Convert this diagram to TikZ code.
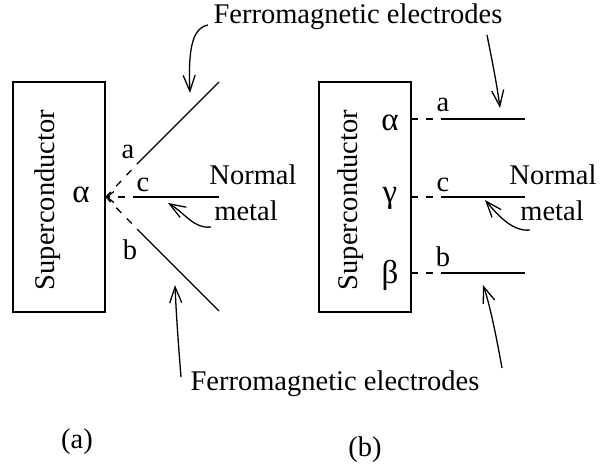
\documentclass[tikz,border=0pt]{standalone}
\usepackage{fontspec}
\setmainfont{Liberation Serif}
\usetikzlibrary{arrows.meta}
\begin{document}
\begin{tikzpicture}[x=1pt,y=-1pt,
  every node/.style={font=\fontsize{28.5}{34}\selectfont, inner sep=0pt},
  greek/.style={font=\fontsize{33}{38}\selectfont},
  wire/.style={line width=1.3pt},
  dashwire/.style={line width=1.3pt, dash pattern=on 7pt off 8pt},
  pointer/.style={line width=1.3pt, -{Straight Barb[length=16pt,width=12pt]}},
  sbox/.style={draw, line width=1.3pt, minimum width=92pt, minimum height=230pt}]
\useasboundingbox (0,0) rectangle (605,466);
% ---------- panel (a)
\node[sbox] (boxa) at (59,197) {};
\node[rotate=90] (sca) at (48,200) {Superconductor};
\node[greek] (alpa) at (81,195) {α};
\coordinate (oa) at (106,197);
\coordinate (a1) at (138,163);
\coordinate (a2) at (219,82);
\coordinate (c1) at (140,197);
\coordinate (c2) at (219,197);
\coordinate (b1) at (137,229);
\coordinate (b2) at (219,311);
\draw[dashwire] (oa) -- (a1);
\draw[wire] (a1) -- (a2);
\draw[dashwire, -{Straight Barb[length=7pt,width=11pt,line width=1.2pt]}] (c1) -- (oa);
\draw[wire] (c1) -- (c2);
\draw[dashwire] (oa) -- (b1);
\draw[wire] (b1) -- (b2);
\node (la) at (128,152) {a};
\node (lc) at (143,185) {c};
\node (lb) at (130,250) {b};
\node (nma) at (253,175) {Normal};
\node (mta) at (246,211) {metal};
\coordinate (pna) at (211,227);
\coordinate (tna) at (168,203);
\draw[pointer] (pna) .. controls (194,229) and (186,214) .. (tna);
% top text
\node (ftop) at (358,17) {Ferromagnetic electrodes};
\coordinate (pta) at (208,25);
\coordinate (tta) at (190,93);
\draw[pointer] (pta) .. controls (192,28) and (188,50) .. (tta);
\coordinate (pba) at (181,377);
\coordinate (tba) at (175,285);
\draw[pointer] (pba) .. controls (178,340) and (176,310) .. (tba);
\node (fbot) at (335,384) {Ferromagnetic electrodes};
\node (capa) at (77,442) {(a)};
% ---------- panel (b)
\node[sbox] (boxb) at (365,197) {};
\node[rotate=90] (scb) at (351,200) {Superconductor};
\node[greek] (alpb) at (390,123) {α};
\node[greek] (gamb) at (390,198) {γ};
\node[greek] (betb) at (390,275) {β};
\coordinate (ba0) at (411,119);
\coordinate (ba1) at (442,119);
\coordinate (ba2) at (525,119);
\coordinate (bc0) at (411,197);
\coordinate (bc1) at (442,197);
\coordinate (bc2) at (525,197);
\coordinate (bb0) at (411,273);
\coordinate (bb1) at (442,273);
\coordinate (bb2) at (525,273);
\draw[dashwire] (ba0) -- (ba1);
\draw[wire] (ba1) -- (ba2);
\draw[dashwire] (bc0) -- (bc1);
\draw[wire] (bc1) -- (bc2);
\draw[dashwire] (bb0) -- (bb1);
\draw[wire] (bb1) -- (bb2);
\node (lab) at (443,105) {a};
\node (lcb) at (443,185) {c};
\node (lbb) at (443,257) {b};
\node (nmb) at (553,175) {Normal};
\node (mtb) at (552,211) {metal};
\coordinate (pnb) at (530,230);
\coordinate (tnb) at (485,200);
\draw[pointer] (pnb) .. controls (512,232) and (497,214) .. (tnb);
\coordinate (ptb) at (487,35);
\coordinate (ttb) at (500,108);
\draw[pointer] (ptb) .. controls (492,60) and (497,85) .. (ttb);
\coordinate (pbb) at (502,368);
\coordinate (tbb) at (483,285);
\draw[pointer] (pbb) .. controls (496,335) and (490,305) .. (tbb);
\node (capb) at (365,450) {(b)};
\end{tikzpicture}
\end{document}
